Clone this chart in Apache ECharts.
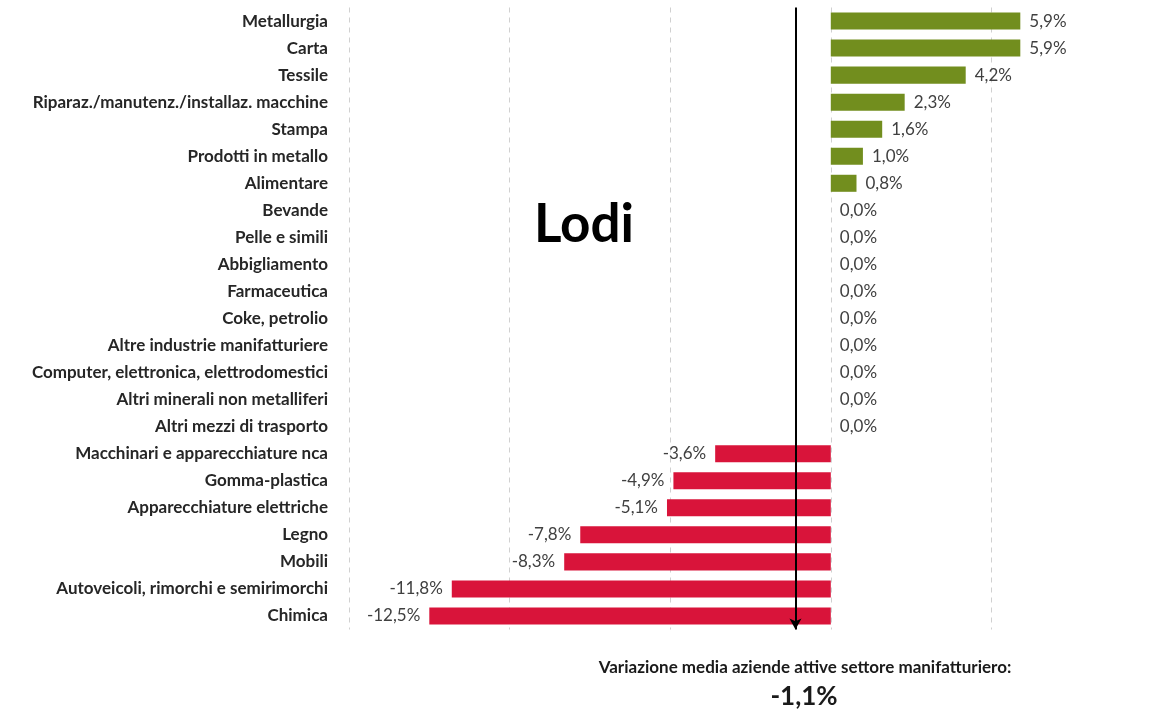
<!DOCTYPE html>
<html><head><meta charset="utf-8">
<script src="https://cdn.jsdelivr.net/npm/echarts@6/dist/echarts.min.js"></script>
<style>html,body{margin:0;padding:0;background:#fff}#c{width:1152px;height:713px}</style>
</head><body><div id="c"></div>
<script>
const categories = ["Metallurgia","Carta","Tessile","Riparaz./manutenz./installaz. macchine","Stampa","Prodotti in metallo","Alimentare","Bevande","Pelle e simili","Abbigliamento","Farmaceutica","Coke, petrolio","Altre industrie manifatturiere","Computer, elettronica, elettrodomestici","Altri minerali non metalliferi","Altri mezzi di trasporto","Macchinari e apparecchiature nca","Gomma-plastica","Apparecchiature elettriche","Legno","Mobili","Autoveicoli, rimorchi e semirimorchi","Chimica"];
const values = [5.9,5.9,4.2,2.3,1.6,1.0,0.8,0,0,0,0,0,0,0,0,0,-3.6,-4.9,-5.1,-7.8,-8.3,-11.8,-12.5];
const average = -1.1;
const title = "Lodi";
const footLine = "Variazione media aziende attive settore manifatturiero:";
const fmt = v => (v<0?'-':'') + Math.abs(v).toFixed(1).replace('.', ',') + '%';
const FONT = 'Lato';
const chart = echarts.init(document.getElementById('c'));
chart.setOption({
  animation:false,
  textStyle:{fontFamily:FONT},
  grid:{left:349,right:-2,top:7.5,bottom:83.5},
  xAxis:{type:'value',min:-15,max:10,interval:5,
    axisLabel:{show:false},axisLine:{show:false},axisTick:{show:false},
    splitLine:{show:true,lineStyle:{type:[5,5],color:'#d0d0d0',width:1}}},
  yAxis:{type:'category',data:categories,inverse:true,
    axisLine:{show:false},axisTick:{show:false},
    axisLabel:{fontFamily:FONT,fontWeight:'bold',fontSize:17,color:'#262626',margin:21}},
  series:[{
    type:'bar',
    barCategoryGap:'37%',
    clip:false,
    data:values.map(v=>({value:v,
      itemStyle:{color: v>=0 ? '#728E1E' : '#D9143A'},
      label:{position: v<0 ? 'left':'right'}})),
    label:{show:true,distance:9,fontFamily:FONT,fontSize:17,color:'#404040',
      formatter:p=>fmt(p.value)},
    markLine:{silent:true,symbol:['none','arrow'],symbolSize:[9,11],
      label:{show:false},
      lineStyle:{color:'#000',width:2,type:'solid'},
      data:[{xAxis:average}]}
  }],
  graphic:[
    {type:'text',x:584,y:225,style:{text:title,fontFamily:FONT,fontWeight:'bold',fontSize:53,fill:'#000',align:'center',verticalAlign:'middle'}},
    {type:'text',x:805,y:668,style:{text:footLine,fontFamily:FONT,fontWeight:'bold',fontSize:17,fill:'#1a1a1a',align:'center',verticalAlign:'middle'}},
    {type:'text',x:804,y:697,style:{text:fmt(average),fontFamily:FONT,fontWeight:'bold',fontSize:26,fill:'#1a1a1a',align:'center',verticalAlign:'middle'}}
  ]
});
</script></body></html>
